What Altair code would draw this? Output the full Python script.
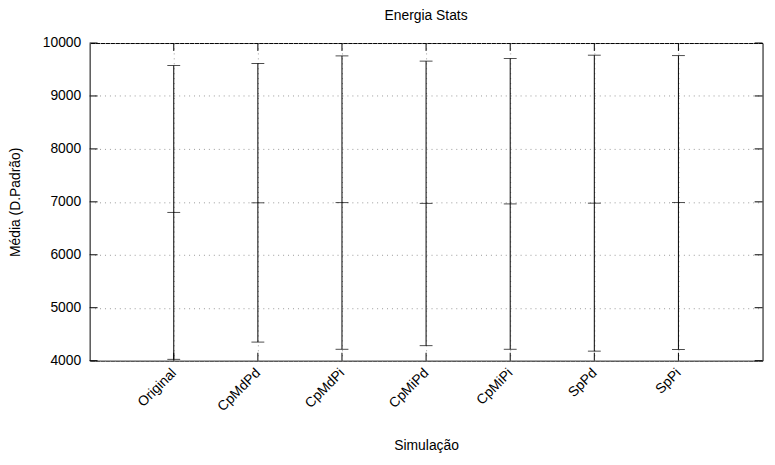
import altair as alt
import pandas as pd

cats = ["Original", "CpMdPd", "CpMdPi", "CpMiPd", "CpMiPi", "SpPd", "SpPi"]
means = [6800, 6982, 6986, 6971, 6961, 6975, 6987]
sds = [2775, 2631, 2771, 2687, 2746, 2795, 2776]
yticks = [4000, 5000, 6000, 7000, 8000, 9000, 10000]

W, H = 680, 321
FONT = "Liberation Sans"
FS = 14

df = pd.DataFrame({"cat": cats, "mean": means, "sd": sds})
df["lo"] = df["mean"] - df["sd"]
df["hi"] = df["mean"] + df["sd"]
tdf = pd.DataFrame({"v": yticks})

xs = alt.Scale(type="point", padding=1, domain=cats)
ys = alt.Scale(domain=[4000, 10000], nice=False, zero=False)

xax = alt.Axis(title="Simulação", labelAngle=-45, labelAlign="right",
               labelBaseline="middle", labelPadding=10, ticks=False,
               domain=False, grid=True, gridDash=[1, 4],
               gridColor="#999999", titlePadding=25)
yax = alt.Axis(title="Média (D.Padrão)", values=yticks, format="d", ticks=False,
               domain=False, grid=True, gridDash=[1, 4],
               gridColor="#999999", labelPadding=9, titlePadding=20)


def X():
    return alt.X("cat:N", scale=xs, sort=cats, axis=xax, title="Simulação")


def Y(f):
    return alt.Y(f + ":Q", scale=ys, axis=yax, title="Média (D.Padrão)")


base = alt.Chart(df)

bars = base.mark_rule(color="black", strokeWidth=1).encode(x=X(), y=Y("lo"), y2="hi:Q")

tick_kw = dict(color="black", orient="horizontal", size=13, thickness=1)
cap_lo = base.mark_tick(**tick_kw).encode(x=X(), y=Y("lo"))
cap_hi = base.mark_tick(**tick_kw).encode(x=X(), y=Y("hi"))
mid = base.mark_tick(**tick_kw).encode(x=X(), y=Y("mean"))

tk = alt.Chart(tdf)
yl = tk.mark_rule(color="black").encode(y=Y("v"), x=alt.value(0), x2=alt.value(8))
yr = tk.mark_rule(color="black").encode(y=Y("v"), x=alt.value(W - 8), x2=alt.value(W))
xb = base.mark_rule(color="black").encode(x=X(), y=alt.value(H), y2=alt.value(H - 8))
xt = base.mark_rule(color="black").encode(x=X(), y=alt.value(0), y2=alt.value(8))

chart = alt.layer(bars, cap_lo, cap_hi, mid, yl, yr, xb, xt).properties(
    width=W, height=H,
    background="white",
    title=alt.TitleParams("Energia Stats", anchor="middle", fontSize=FS,
                          fontWeight="normal", font=FONT, color="black", offset=13),
    autosize=alt.AutoSizeParams(type="none"),
    padding={"left": 82.5, "top": 33, "right": 4.5, "bottom": 100},
).configure_view(stroke="black", strokeWidth=1).configure_axis(
    labelFont=FONT, titleFont=FONT, labelFontSize=FS, titleFontSize=FS,
    labelColor="black", titleColor="black", titleFontWeight="normal",
)

chart.save("out.html", embed_options={"renderer": "svg", "actions": False})
